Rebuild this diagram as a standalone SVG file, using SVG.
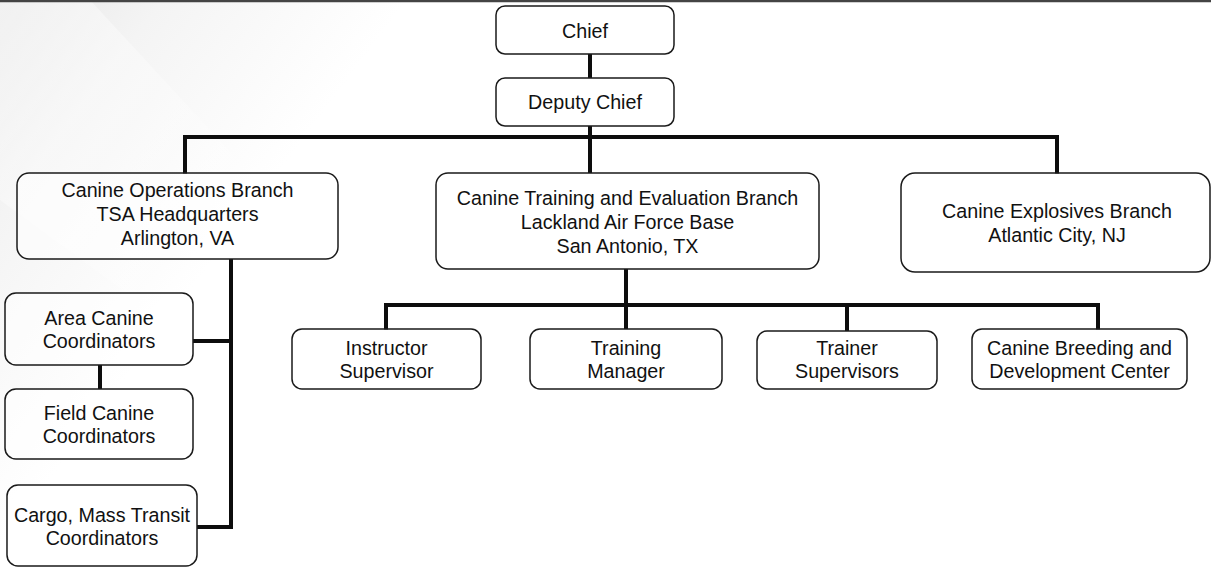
<svg xmlns="http://www.w3.org/2000/svg" width="1211" height="568" viewBox="0 0 1211 568">
<defs>
<linearGradient id="bg" x1="0" y1="0" x2="1" y2="0.35">
<stop offset="0" stop-color="#e6e6e6"/>
<stop offset="0.12" stop-color="#f4f4f4"/>
<stop offset="0.3" stop-color="#ffffff"/>
</linearGradient>
<linearGradient id="ray" x1="0" y1="0" x2="1" y2="1">
<stop offset="0" stop-color="#ffffff" stop-opacity="0.9"/>
<stop offset="1" stop-color="#ffffff" stop-opacity="0"/>
</linearGradient>
</defs>
<style>
.box{fill:#ffffff;fill-opacity:0.55;stroke:#1a1a1a;stroke-width:1.5}
.t{font-family:"Liberation Sans",Arial,sans-serif;font-size:19.7px;fill:#111;text-anchor:middle}
.c{fill:none;stroke:#0d0d0d;stroke-width:4;stroke-linecap:butt;stroke-linejoin:miter}
</style>
<rect x="0" y="0" width="1211" height="568" fill="url(#bg)"/>
<polygon points="0,0 90,0 330,260 300,420 0,200" fill="url(#ray)" opacity="0.5"/>
<line x1="0" y1="1" x2="1211" y2="1" stroke="#444" stroke-width="2.5"/>
<g id="connectors">
<path class="c" d="M590,54 V78"/>
<path class="c" d="M590,126 V173"/>
<path class="c" d="M185,174 V137 H1057 V174"/>
<path class="c" d="M626,269 V329"/>
<path class="c" d="M386,330 V305 H1098 V330"/>
<path class="c" d="M847,305 V331"/>
<path class="c" d="M231,259 V527 H197"/>
<path class="c" d="M193,341 H231"/>
<path class="c" d="M100,365 V389"/>
</g>
<g id="chief">
<rect class="box" x="496" y="6" width="178" height="48" rx="9"/>
<text class="t" x="585" y="38">Chief</text>
</g>
<g id="deputy-chief">
<rect class="box" x="496" y="78" width="178" height="48" rx="9"/>
<text class="t" x="585" y="109">Deputy Chief</text>
</g>
<g id="canine-operations">
<rect class="box" x="17" y="173" width="321" height="86" rx="12"/>
<text class="t" x="177.5" y="197">Canine Operations Branch</text>
<text class="t" x="177.5" y="221">TSA Headquarters</text>
<text class="t" x="177.5" y="245">Arlington, VA</text>
</g>
<g id="canine-training">
<rect class="box" x="436" y="173" width="383" height="96" rx="12"/>
<text class="t" x="627.5" y="205">Canine Training and Evaluation Branch</text>
<text class="t" x="627.5" y="229">Lackland Air Force Base</text>
<text class="t" x="627.5" y="253">San Antonio, TX</text>
</g>
<g id="canine-explosives">
<rect class="box" x="901" y="173" width="309" height="99" rx="14"/>
<text class="t" x="1057" y="218">Canine Explosives Branch</text>
<text class="t" x="1057" y="242">Atlantic City, NJ</text>
</g>
<g id="area-canine">
<rect class="box" x="5" y="293" width="188" height="72" rx="11"/>
<text class="t" x="99" y="325">Area Canine</text>
<text class="t" x="99" y="348">Coordinators</text>
</g>
<g id="field-canine">
<rect class="box" x="5" y="389" width="188" height="70" rx="11"/>
<text class="t" x="99" y="420">Field Canine</text>
<text class="t" x="99" y="443">Coordinators</text>
</g>
<g id="cargo-mass-transit">
<rect class="box" x="7" y="485" width="190" height="81" rx="11"/>
<text class="t" x="102" y="522">Cargo, Mass Transit</text>
<text class="t" x="102" y="545">Coordinators</text>
</g>
<g id="instructor-supervisor">
<rect class="box" x="292" y="329" width="189" height="60" rx="10"/>
<text class="t" x="386.5" y="355">Instructor</text>
<text class="t" x="386.5" y="378">Supervisor</text>
</g>
<g id="training-manager">
<rect class="box" x="530" y="329" width="192" height="60" rx="10"/>
<text class="t" x="626" y="355">Training</text>
<text class="t" x="626" y="378">Manager</text>
</g>
<g id="trainer-supervisors">
<rect class="box" x="757" y="331" width="180" height="58" rx="10"/>
<text class="t" x="847" y="355">Trainer</text>
<text class="t" x="847" y="378">Supervisors</text>
</g>
<g id="canine-breeding">
<rect class="box" x="972" y="329" width="215" height="60" rx="10"/>
<text class="t" x="1079.5" y="355">Canine Breeding and</text>
<text class="t" x="1079.5" y="378">Development Center</text>
</g>
</svg>
